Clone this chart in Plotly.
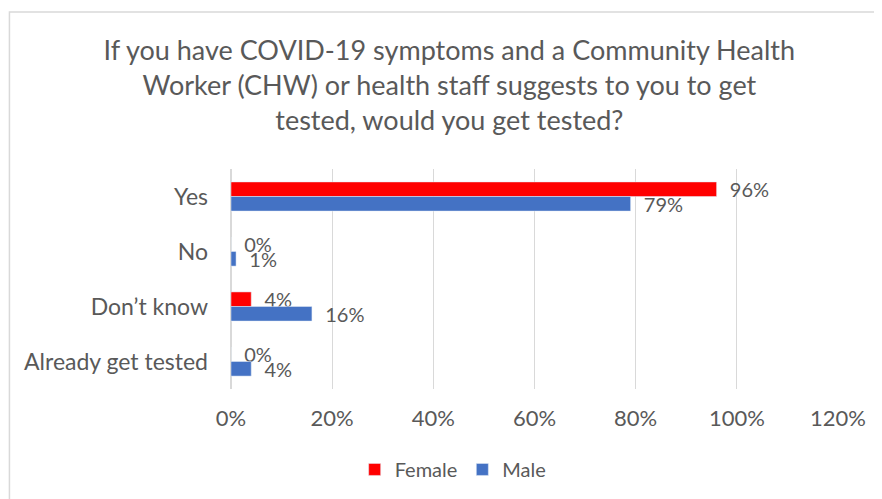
import plotly.graph_objects as go

# Survey answers (share of respondents)
categories = ['Yes', 'No', 'Don’t know', 'Already get tested']
female = [0.96, 0.00, 0.04, 0.00]
male = [0.79, 0.01, 0.16, 0.04]
x_ticks = [0, 0.2, 0.4, 0.6, 0.8, 1.0, 1.2]

FONT = 'Lato, Calibri, Arial, sans-serif'
GRAY = '#595959'

fig = go.Figure()

fig.add_trace(go.Bar(
    y=categories, x=female, name='Female', orientation='h',
    marker=dict(color='#ff0000'),
    texttemplate='  %{x:.0%}', textposition='outside', constraintext='none',
    textfont=dict(size=20, color=GRAY, family=FONT),
    cliponaxis=False
))
fig.add_trace(go.Bar(
    y=categories, x=male, name='Male', orientation='h',
    marker=dict(color='#4472c4'),
    texttemplate='  %{x:.0%}', textposition='outside', constraintext='none',
    textfont=dict(size=20, color=GRAY, family=FONT),
    cliponaxis=False
))

# page body adds an 8px margin, so the figure is a bit smaller than the window
fig.update_layout(
    width=874, height=491,
    margin=dict(l=223, r=44, t=161, b=110, autoexpand=False),
    paper_bgcolor='white', plot_bgcolor='white',
    barmode='group', bargap=0.47, bargroupgap=0,
    title=dict(
        text='If you have COVID-19 symptoms and a Community Health<br>'
             'Worker (CHW) or health staff suggests to you to get<br>'
             'tested, would you get tested?',
        x=0.505, xanchor='center', y=0.894, yanchor='middle',
        font=dict(size=27, color=GRAY, family=FONT)
    ),
    font=dict(family=FONT, color=GRAY),
    legend=dict(
        orientation='h', x=0.366, xanchor='center', y=-0.277, yanchor='top',
        font=dict(size=20, color=GRAY, family=FONT),
        itemwidth=30
    ),
    showlegend=True
)

fig.update_xaxes(
    range=[0, 1.2], tickvals=x_ticks, tickformat='.0%',
    showgrid=True, gridcolor='#d9d9d9', gridwidth=1,
    zeroline=True, zerolinecolor='#d9d9d9',
    showline=False, ticks='', automargin=False,
    ticklabelstandoff=14,
    tickfont=dict(size=22, color=GRAY, family=FONT)
)
fig.update_yaxes(
    autorange='reversed', showgrid=False, showline=False, ticks='',
    automargin=False, ticklabelstandoff=22,
    tickfont=dict(size=23, color=GRAY, family=FONT)
)

# light chart-area border like the Excel chart frame
fig.add_shape(
    type='rect', xref='paper', yref='paper',
    x0=-0.365, x1=1.2, y0=-0.6, y1=1.714,
    line=dict(color='#d9d9d9', width=1.5), layer='below'
)

fig.write_html('out.html')
